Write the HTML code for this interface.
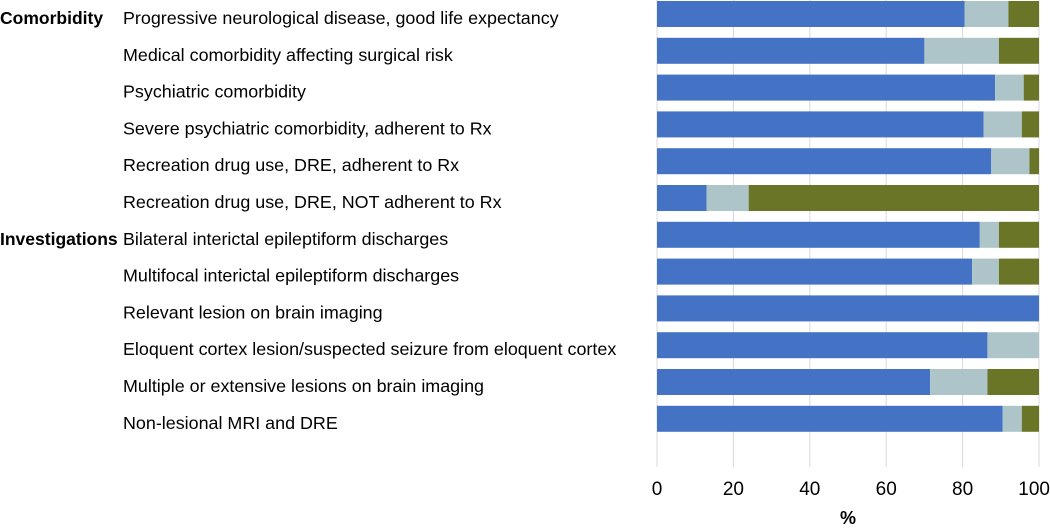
<!DOCTYPE html>
<html><head><meta charset="utf-8"><style>
body{margin:0;background:#fff;width:1050px;height:525px;overflow:hidden;font-family:"Liberation Sans",sans-serif}
</style></head><body>
<svg width="1050" height="525" id="chart" font-family="Liberation Sans, sans-serif"></svg>
<script>
const categories=["Progressive neurological disease, good life expectancy","Medical comorbidity affecting surgical risk","Psychiatric comorbidity","Severe psychiatric comorbidity, adherent to Rx","Recreation drug use, DRE, adherent to Rx","Recreation drug use, DRE, NOT adherent to Rx","Bilateral interictal epileptiform discharges","Multifocal interictal epileptiform discharges","Relevant lesion on brain imaging","Eloquent cortex lesion/suspected seizure from eloquent cortex","Multiple or extensive lesions on brain imaging","Non-lesional MRI and DRE"];
const seriesA=[80.5,70,88.5,85.5,87.5,13,84.5,82.5,100,86.5,71.5,90.5];
const seriesB=[11.5,19.5,7.5,10,10,11,5,7,0,13.5,15,5];
const seriesC=[8,10.5,4,4.5,2.5,76,10.5,10.5,0,0,13.5,4.5];
const ticks=[0,20,40,60,80,100];
const groups=[["Comorbidity",0],["Investigations",6]];
const NS="http://www.w3.org/2000/svg",svg=document.getElementById("chart");
const x=v=>657+v*3.82, y=i=>1+i*36.8;
function mk(t,a,p){const e=document.createElementNS(NS,t);for(const k in a)e.setAttribute(k,a[k]);(p||svg).appendChild(e);return e;}
ticks.forEach(t=>{
 const l=mk("line",{x1:x(t),x2:x(t),y1:0,y2:467,stroke:"#d9d9d9","stroke-width":1});
 
 
 const tx=mk("text",{x:t===100?1050:x(t),y:495,"text-anchor":t===100?"end":"middle","font-size":19,fill:"#000"});tx.textContent=t;
 
 
});
const xt=mk("text",{x:x(50),y:524,"text-anchor":"middle","font-size":18,"font-weight":"bold"});xt.textContent="%";


const cols=["#4472C4","#ADC5C9","#6B7528"];
categories.forEach((c,i)=>{
 let s=0;[seriesA[i],seriesB[i],seriesC[i]].forEach((v,k)=>{
  if(v>0){const r=mk("rect",{x:x(s),y:y(i),width:v*3.82,height:26,fill:cols[k]});
  
  }
  s+=v;});
 const t=mk("text",{x:123,y:y(i)+23,"font-size":17.9,fill:"#000"});t.textContent=c;
 
 
});
groups.forEach(g=>{const t=mk("text",{x:0,y:y(g[1])+23,"font-size":17.5,"font-weight":"bold"});t.textContent=g[0];
 
 });
</script>
</body></html>
